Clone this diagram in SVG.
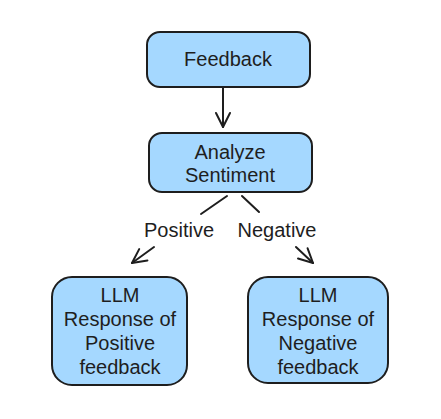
<svg xmlns="http://www.w3.org/2000/svg" width="441" height="419" viewBox="0 0 441 419">
<style>
.box{fill:#a5d8ff;stroke:#1e1e1e;stroke-width:2;}
.t{font-family:"Liberation Sans",Arial,sans-serif;font-size:20px;fill:#1e1e1e;text-anchor:middle;dominant-baseline:central;}
.c{fill:none;stroke:#1e1e1e;stroke-width:2;stroke-linecap:round;}
</style>
<defs>
<marker id="ah" markerUnits="userSpaceOnUse" markerWidth="24" markerHeight="24" viewBox="-16 -12 20 24" refX="0" refY="0" orient="auto">
<path d="M-14 -7 L0 0 L-14 7" fill="none" stroke="#1e1e1e" stroke-width="2" stroke-linecap="round" stroke-linejoin="round"/>
</marker>
</defs>
<rect width="441" height="419" fill="#ffffff"/>
<g id="connectors">
<path class="c" d="M223 88 L223 127" marker-end="url(#ah)"/>
<path class="c" d="M227 196 L201 214"/>
<path class="c" d="M154 247 L132 263" marker-end="url(#ah)"/>
<path class="c" d="M242 196 L259 212"/>
<path class="c" d="M296 247 L313 263" marker-end="url(#ah)"/>
<text class="t" x="179" y="230">Positive</text>
<text class="t" x="277" y="230">Negative</text>
</g>
<g id="feedback">
<rect class="box" x="147" y="32" width="163" height="55" rx="13"/>
<text class="t" x="228" y="59">Feedback</text>
</g>
<g id="analyze">
<rect class="box" x="149" y="133" width="163" height="59" rx="13"/>
<text class="t" x="230" y="152">Analyze</text>
<text class="t" x="230" y="175">Sentiment</text>
</g>
<g id="positive">
<rect class="box" x="52" y="277" width="135" height="108" rx="20"/>
<text class="t" x="120" y="295">LLM</text>
<text class="t" x="120" y="319">Response of</text>
<text class="t" x="120" y="343">Positive</text>
<text class="t" x="120" y="367">feedback</text>
</g>
<g id="negative">
<rect class="box" x="248" y="277" width="140" height="106" rx="20"/>
<text class="t" x="318" y="295">LLM</text>
<text class="t" x="318" y="319">Response of</text>
<text class="t" x="318" y="343">Negative</text>
<text class="t" x="318" y="367">feedback</text>
</g>
</svg>
